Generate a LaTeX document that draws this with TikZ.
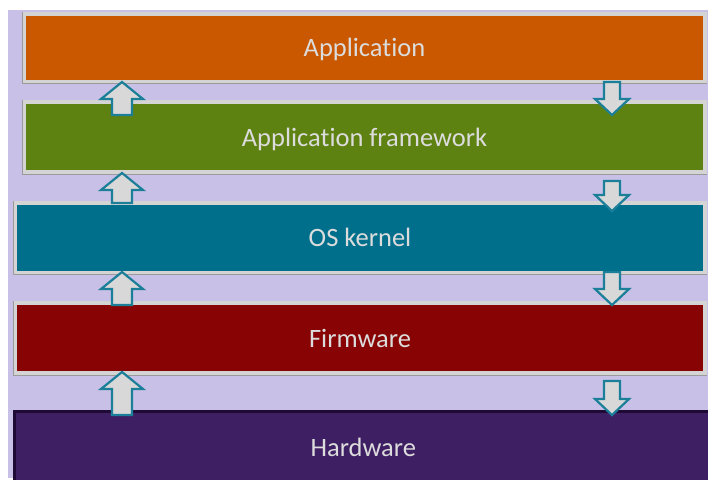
\documentclass[tikz,border=0pt]{standalone}
\usepackage{fontspec}
\setmainfont[Ligatures={NoCommon}]{Carlito}
\definecolor{lav}{HTML}{C8C0E6}
\definecolor{rim}{HTML}{D4D4D4}
\definecolor{rimshade}{HTML}{9A9A9A}
\definecolor{cApp}{HTML}{C95800}
\definecolor{cFw}{HTML}{5E8212}
\definecolor{cOs}{HTML}{006F8C}
\definecolor{cFirm}{HTML}{880404}
\definecolor{cHw}{HTML}{3F1F63}
\definecolor{cHwRim}{HTML}{1E0A35}
\definecolor{arrline}{HTML}{1B7F99}
\definecolor{arrfill}{HTML}{D8D8D8}
\definecolor{txt}{HTML}{DCDCDC}
\begin{document}
\begin{tikzpicture}[x=1pt,y=-1pt,
  layer/.style={draw=rim, line width=4pt, inner sep=0pt, outer sep=0pt,
    text height=18pt, text depth=0pt,
    font=\fontsize{26.5}{30}\selectfont, text=txt},
  blockarrow/.style={draw=arrline, fill=arrfill, line width=2.2pt, line join=miter},
  pics/uparr/.style={code={
    \path[blockarrow] (0,0) -- (21,17) -- (10,17) -- (10,#1) -- (-10,#1)
      -- (-10,17) -- (-21,17) -- cycle;}},
  pics/downarr/.style={code={
    \path[blockarrow] (0,#1) -- (17,#1-16) -- (8,#1-16) -- (8,0) -- (-8,0)
      -- (-8,#1-16) -- (-17,#1-16) -- cycle;}}
]
\useasboundingbox (0,0) rectangle (708,479);
\clip (0,0) rectangle (708,479);
\fill[white] (0,0) rectangle (708,479);
\fill[lav] (8,10) rectangle (708,478);

% layers
\node[layer, fill=cApp, minimum width=681pt, minimum height=67.5pt] (app) at (364.5,47.75) {Application};
\node[layer, fill=cFw, minimum width=681pt, minimum height=70pt] (fw) at (364.5,137) {Application framework};
\node[layer, fill=cOs, minimum width=690pt, minimum height=70pt] (os) at (360,237.5) {OS kernel};
\node[layer, fill=cFirm, minimum width=690pt, minimum height=70pt] (firm) at (360,338) {Firmware};
\node[layer, draw=cHwRim, line width=3pt, fill=cHw, minimum width=697.5pt, minimum height=72.5pt] (hw) at (363.25,447.75) {Hardware};

% rim shading (left and bottom edges)
\foreach \n in {app,fw,os,firm}{
  \draw[rimshade, line width=1pt] ([xshift=-2pt,yshift=2pt]\n.north west) -- ([xshift=-2pt,yshift=-2pt]\n.south west) -- ([xshift=2pt,yshift=-2pt]\n.south east);
}

% up arrows (left)
\pic at (122,82) {uparr=33};
\pic at (122,173) {uparr=30};
\pic at (122,272) {uparr=33};
\pic at (122,372) {uparr=43};
% down arrows (right)
\pic at (612,82) {downarr=33};
\pic at (612,181) {downarr=30};
\pic at (612,272) {downarr=33};
\pic at (612,381) {downarr=34};
\end{tikzpicture}
\end{document}
